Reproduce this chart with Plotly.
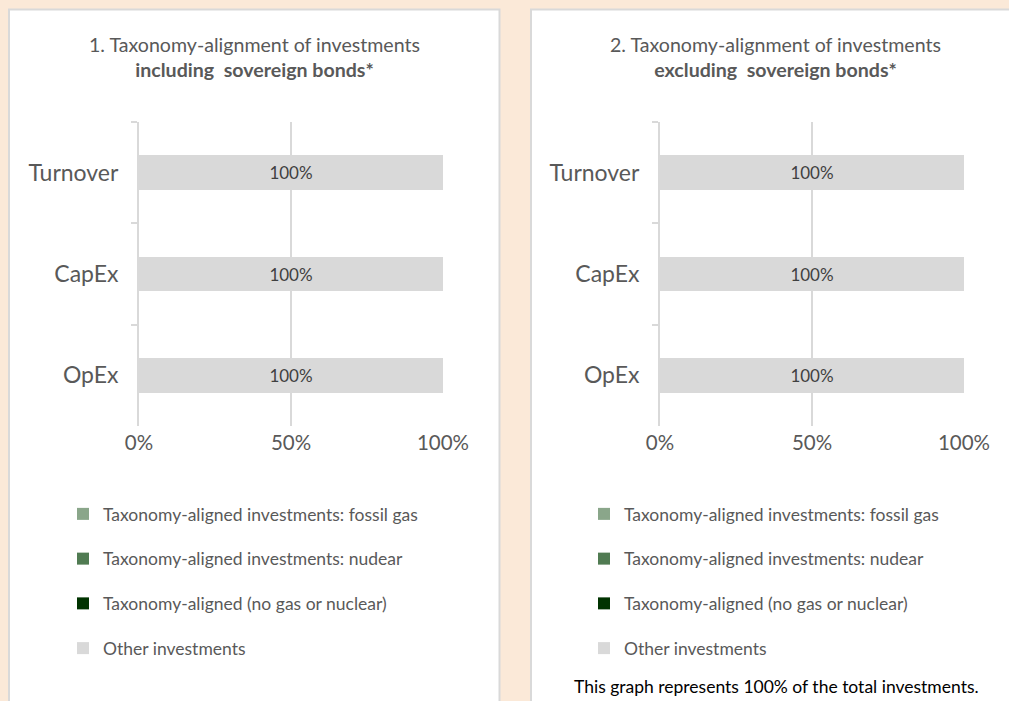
import plotly.graph_objects as go

W, H = 1009, 701

categories = ["Turnover", "CapEx", "OpEx"]
series_names = [
    "Taxonomy-aligned investments: fossil gas",
    "Taxonomy-aligned investments: nudear",
    "Taxonomy-aligned (no gas or nuclear)",
    "Other investments",
]
series_colors = ["#8AA68A", "#507B52", "#003300", "#D9D9D9"]

incl_fossil = [0, 0, 0]
incl_nuclear = [0, 0, 0]
incl_nogas = [0, 0, 0]
incl_other = [100, 100, 100]

excl_fossil = [0, 0, 0]
excl_nuclear = [0, 0, 0]
excl_nogas = [0, 0, 0]
excl_other = [100, 100, 100]

x_tickvals = [0, 50, 100]
x_ticktext = ["0%", "50%", "100%"]

titles = [
    "1. Taxonomy-alignment of investments<br><b>including  sovereign bonds*</b>",
    "2. Taxonomy-alignment of investments<br><b>excluding  sovereign bonds*</b>",
]
footnote = "This graph represents 100% of the total investments."

FONT = "Lato"
GREY = "#595959"

def px(x):
    return x / W

def py(y):
    return 1 - y / H

fig = go.Figure()

datasets = [
    [incl_fossil, incl_nuclear, incl_nogas, incl_other],
    [excl_fossil, excl_nuclear, excl_nogas, excl_other],
]

for ci, data in enumerate(datasets):
    xa = "x" if ci == 0 else "x2"
    ya = "y" if ci == 0 else "y2"
    leg = "legend" if ci == 0 else "legend2"
    for si, vals in enumerate(data):
        is_other = si == 3
        fig.add_trace(go.Bar(
            x=vals, y=categories, orientation="h",
            name=series_names[si],
            marker=dict(color=series_colors[si], line=dict(width=0)),
            text=[f"{v:.0f}%" for v in vals] if is_other else None,
            textposition="inside" if is_other else "none",
            insidetextanchor="middle",
            textfont=dict(family=FONT, size=17, color="#404040"),
            xaxis=xa, yaxis=ya,
            legend=leg, legendgroup=f"{ci}-{si}",
            hoverinfo="skip",
        ))

# panels
shapes = [
    dict(type="rect", xref="paper", yref="paper",
         x0=px(9), x1=px(499.5), y0=py(712), y1=py(9.5),
         line=dict(color="#D9D9D9", width=2), fillcolor="white", layer="below"),
    dict(type="rect", xref="paper", yref="paper",
         x0=px(531), x1=px(1020), y0=py(712), y1=py(9.5),
         line=dict(color="#D9D9D9", width=2), fillcolor="white", layer="below"),
]

annotations = []
for ci, off in enumerate([0, 521]):
    annotations.append(dict(
        text=titles[ci], x=px(254.5 + off), y=py(57), xref="paper", yref="paper",
        showarrow=False, xanchor="center", yanchor="middle",
        font=dict(family=FONT, size=19.6, color=GREY), align="center",
    ))
annotations.append(dict(
    text=footnote, x=px(776.5), y=py(686), xref="paper", yref="paper",
    showarrow=False, xanchor="center", yanchor="middle",
    font=dict(family=FONT, size=17.5, color="black"),
))

xaxis_common = dict(
    range=[0, 100], tickvals=x_tickvals, ticktext=x_ticktext,
    showgrid=True, gridcolor="#D9D9D9", gridwidth=2,
    zeroline=False, showline=False, ticks="", automargin=False,
    ticklabelstandoff=2,
    tickfont=dict(family=FONT, size=20.5, color=GREY), fixedrange=True,
)
yaxis_common = dict(
    autorange="reversed", type="category",
    showline=True, linecolor="#D9D9D9", linewidth=2,
    ticks="outside", tickson="boundaries", ticklen=6, tickcolor="#D9D9D9", tickwidth=2,
    ticklabelstandoff=14, automargin=False,
    showgrid=False, zeroline=False,
    tickfont=dict(family=FONT, size=23, color=GREY), fixedrange=True,
)

legend_common = dict(
    orientation="v", xanchor="left", yanchor="top",
    bgcolor="rgba(0,0,0,0)", borderwidth=0,
    font=dict(family=FONT, size=17.5, color=GREY),
    traceorder="grouped", tracegroupgap=19,
)

fig.update_layout(
    width=W, height=H,
    margin=dict(l=0, r=0, t=0, b=0, autoexpand=False),
    paper_bgcolor="#FBE9D8", plot_bgcolor="rgba(0,0,0,0)",
    barmode="stack", bargap=0.66,
    showlegend=True,
    xaxis=dict(domain=[px(139), px(443)], anchor="y", **xaxis_common),
    yaxis=dict(domain=[py(426), py(122)], anchor="x", **yaxis_common),
    xaxis2=dict(domain=[px(660), px(964)], anchor="y2", **xaxis_common),
    yaxis2=dict(domain=[py(426), py(122)], anchor="x2", **yaxis_common),
    legend=dict(x=px(63), y=py(496), **legend_common),
    legend2=dict(x=px(584), y=py(496), **legend_common),
    shapes=shapes, annotations=annotations,
    font=dict(family=FONT, color=GREY),
)

fig.write_html(
    "out.html",
    config={"displayModeBar": False},
    post_script="document.body.style.margin='0';document.body.style.padding='0';"
                "document.body.style.overflow='hidden';document.body.style.background='#FBE9D8';",
)
